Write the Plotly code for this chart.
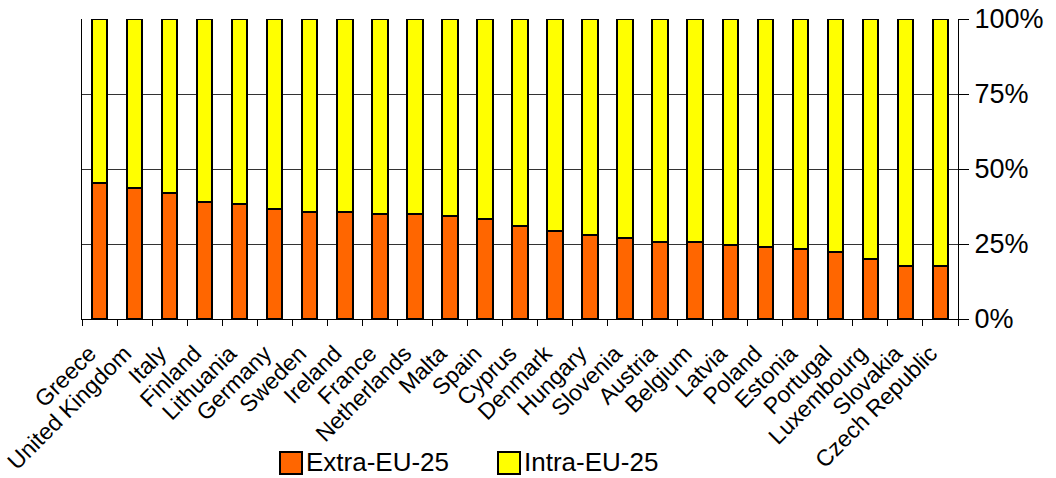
import plotly.graph_objects as go

countries = ["Greece", "United Kingdom", "Italy", "Finland", "Lithuania", "Germany",
             "Sweden", "Ireland", "France", "Netherlands", "Malta", "Spain", "Cyprus",
             "Denmark", "Hungary", "Slovenia", "Austria", "Belgium", "Latvia", "Poland",
             "Estonia", "Portugal", "Luxembourg", "Slovakia", "Czech Republic"]
extra_eu = [45.2, 43.7, 42.1, 39.0, 38.2, 36.6, 35.8, 35.8, 34.9, 34.9, 34.2, 33.4, 31.0,
            29.4, 27.9, 27.0, 25.6, 25.6, 24.7, 23.9, 23.2, 22.2, 19.9, 17.6, 17.6]
intra_eu = [round(100 - v, 1) for v in extra_eu]
y_ticks = [0, 25, 50, 75, 100]
y_labels = ["0%", "25%", "50%", "75%", "100%"]
series_names = ["Extra-EU-25", "Intra-EU-25"]
series_colors = ["#FF6600", "#FFFF00"]

font = "Liberation Sans, Arial, sans-serif"

# plot-area geometry in pixels (layout only)
W, H = 1056, 478
ML, MR, MT, MB = 82, 98, 19, 159
PW, PH = W - ML - MR, H - MT - MB


def px_x(p):
    return (p - ML) / PW


def px_y(p):
    return (H - MB - p) / PH


fig = go.Figure()
for name, vals, col in zip(series_names, [extra_eu, intra_eu], series_colors):
    fig.add_trace(go.Bar(x=countries, y=vals, name=name, showlegend=False,
                         marker=dict(color=col, line=dict(color="black", width=2))))

# custom legend (large square swatches, as in the original)
legend_swatch_left = [280, 498]
for name, col, left in zip(series_names, series_colors, legend_swatch_left):
    fig.add_shape(type="rect", xref="paper", yref="paper",
                  x0=px_x(left), x1=px_x(left + 22), y0=px_y(474), y1=px_y(452),
                  fillcolor=col, line=dict(color="black", width=2))
    fig.add_annotation(xref="paper", yref="paper", x=px_x(left + 25), y=px_y(462),
                       xanchor="left", yanchor="middle", showarrow=False, text=name,
                       borderpad=0,
                       font=dict(size=26, family=font, color="black"))

fig.update_layout(
    barmode="stack",
    bargap=0.56,
    width=W, height=H,
    margin=dict(l=ML, r=MR, t=MT, b=MB, autoexpand=False),
    paper_bgcolor="white", plot_bgcolor="white",
    font=dict(family=font, color="black"),
    showlegend=False,
    xaxis=dict(tickangle=-45, tickfont=dict(size=23, family=font),
               ticklabelshift=-10, ticklabelstandoff=11,
               showline=True, linecolor="black", linewidth=1,
               ticks="outside", ticklen=6, tickcolor="black", tickson="boundaries",
               showgrid=False, range=[-0.5, len(countries) - 0.5]),
    yaxis=dict(side="right", range=[0, 100], tickvals=y_ticks, ticktext=y_labels,
               tickfont=dict(size=27, family=font),
               showline=True, mirror=True, linecolor="black", linewidth=1,
               ticks="outside", ticklen=10, tickcolor="black",
               showgrid=True, gridcolor="#333333", gridwidth=1, zeroline=False),
)

fig.write_html("out.html")
